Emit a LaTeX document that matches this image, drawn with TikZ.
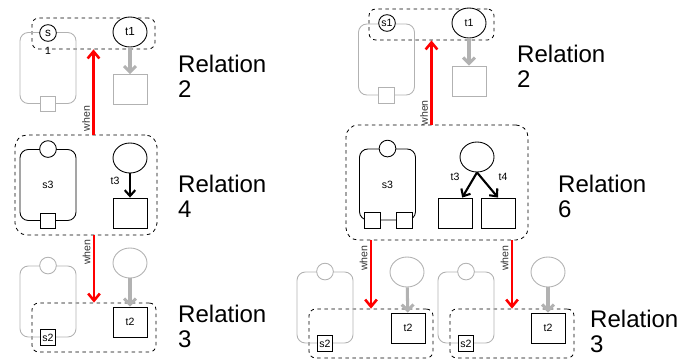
\documentclass[tikz,border=0pt]{standalone}
\usepackage{fontspec}
\setmainfont{Liberation Sans}
\usetikzlibrary{shapes.geometric,arrows.meta}

\begin{document}
\begin{tikzpicture}[x=0.03cm, y=-0.03cm,
        every node/.style={inner sep=0pt, font=\fontsize{9}{10}\selectfont},
        grp/.style={draw, dashed, line width=0.7pt, rounded corners=0.2cm},
        state/.style={draw, rectangle, rounded corners=0.25cm, line width=0.75pt, minimum width=1.68cm, minimum height=2.13cm},
        port/.style={draw, fill=white, line width=0.75pt, minimum size=0.47cm},
        init/.style={circle, draw, fill=white, line width=0.75pt, minimum size=0.5cm},
        trig/.style={ellipse, draw, fill=white, line width=0.75pt, minimum width=1.02cm, minimum height=0.9cm},
        goal/.style={draw, fill=white, line width=0.75pt, minimum width=1.02cm, minimum height=0.9cm},
        faded/.style={draw=gray!60},
        rel/.style={anchor=north west, align=left, font=\fontsize{20.5}{21.3}\selectfont},
        whenarr/.style={red, line width=2.2pt, -{Straight Barb[length=6pt,width=10pt]}},
        whentxt/.style={rotate=90, anchor=south, inner sep=2pt, text=black!80},
        grayarr/.style={gray!60, line width=2.6pt, -{Straight Barb[length=5pt,width=10pt]}},
        blkarr/.style={black, line width=1.8pt, -{Straight Barb[length=5pt,width=9pt]}}
    ]
        \useasboundingbox (0,0) rectangle (678,361);

        % left: relation 2
        \node[grp, minimum width=3.69cm, minimum height=0.93cm] (grpA) at (93.5,33.5) {};
        \node[state, faded] (stA) at (48,68) {};
        \node[port, faded] (sqA) at (stA.south) {};
        \node[init, font=\fontsize{10}{11}\selectfont, label={[label distance=0.15cm]below:1}] (s1A) at (48,33) {s};
        \node[trig, font=\fontsize{10}{11}\selectfont] (t1A) at (130,32) {t1};
        \node[goal, faded] (bxA) at (130,89.5) {};
        \draw[grayarr] (t1A) -- (bxA);

        % left: relation 4
        \node[grp, rounded corners=0.36cm, minimum width=4.26cm, minimum height=3cm] (grpB) at (86,185) {};
        \node[state] (stB) at (48,185) {s3};
        \node[init] (ciB) at (stB.north) {};
        \node[port] (sqB) at (stB.south) {};
        \node[trig] (t3B) at (130,158) {};
        \node[goal] (bxB) at (130,213) {};
        \draw[blkarr] (t3B) -- (bxB);
        \node at ([shift={(-15,23)}]t3B.center) {t3};

        % left: relation 3
        \node[grp, minimum width=3.72cm, minimum height=1.47cm] (grpC) at (94,327.5) {};
        \node[state, faded] (stC) at (48,301.5) {};
        \node[init, faded] (ciC) at (stC.north) {};
        \node[port] (s2C) at (stC.south) {s2};
        \node[trig, faded] (t2C) at (130,263) {};
        \node[goal] (bxC) at (130,322) {t2};
        \draw[grayarr] (t2C) -- (bxC);

        \draw[whenarr] (grpB.north -| grpA.south) -- node[whentxt, pos=0.19] {when} (grpA.south);
        \draw[whenarr] (grpB.south -| grpC.north) -- node[whentxt, pos=0.25] {when} (grpC.north);

        \node[rel] (relA) at (178,55) {Relation\\2};
        \node[rel] (relB) at (178,175) {Relation\\4};
        \node[rel] (relC) at (178,305) {Relation\\3};

        % right: relation 2
        \node[grp, minimum width=3.75cm, minimum height=0.93cm] (grpD) at (431.5,24.5) {};
        \node[state, faded] (stD) at (386.5,59.5) {};
        \node[port, faded] (sqD) at (stD.south) {};
        \node[init] (s1D) at (387,23) {s1};
        \node[trig] (t1D) at (469,23) {t1};
        \node[goal, faded] (bxD) at (469,81) {};
        \draw[grayarr] (t1D) -- (bxD);

        % right: relation 6
        \node[grp, rounded corners=0.36cm, minimum width=5.46cm, minimum height=3.45cm] (grpE) at (437,182.5) {};
        \node[state] (stE) at (387.5,184.5) {s3};
        \node[init] (ciE) at (stE.north) {};
        \node[port] (sqE1) at ([xshift=-0.46cm]stE.south) {};
        \node[port] (sqE2) at ([xshift=0.5cm]stE.south) {};
        \node[trig] (t34E) at (477,157) {};
        \node[goal] (bxE1) at (455.5,213) {};
        \node[goal] (bxE2) at (498,213) {};
        \draw[blkarr] (t34E.south) -- ([xshift=0.2cm]bxE1.north);
        \draw[blkarr] (t34E.south) -- (bxE2.north);
        \node at ([shift={(-22,20)}]t34E.center) {t3};
        \node at ([shift={(26,20)}]t34E.center) {t4};

        % right: relation 3, twice
        \node[grp, minimum width=3.72cm, minimum height=1.47cm] (grpF) at (371,333.5) {};
        \node[state, faded] (stF) at (325,307.5) {};
        \node[init, faded] (ciF) at (stF.north) {};
        \node[port] (s2F) at (stF.south) {s2};
        \node[trig, faded] (t2F) at (407,272) {};
        \node[goal] (bxF) at (408,328) {t2};
        \draw[grayarr] (t2F) -- (bxF);

        \node[grp, minimum width=3.72cm, minimum height=1.47cm] (grpG) at (512,333.5) {};
        \node[state, faded] (stG) at (466,307.5) {};
        \node[init, faded] (ciG) at (stG.north) {};
        \node[port] (s2G) at (stG.south) {s2};
        \node[trig, faded] (t2G) at (548,272) {};
        \node[goal] (bxG) at (548,328) {t2};
        \draw[grayarr] (t2G) -- (bxG);

        \draw[whenarr] (grpE.north -| grpD.south) -- node[whentxt, pos=0.14] {when} (grpD.south);
        \draw[whenarr] (grpE.south -| grpF.north) -- node[whentxt, pos=0.26] {when} (grpF.north);
        \draw[whenarr] (grpE.south -| grpG.north) -- node[whentxt, pos=0.26] {when} (grpG.north);

        \node[rel] (relD) at (517,45) {Relation\\2};
        \node[rel] (relE) at (558,175) {Relation\\6};
        \node[rel] (relF) at (590,310) {Relation\\3};
    \end{tikzpicture}
\end{document}
